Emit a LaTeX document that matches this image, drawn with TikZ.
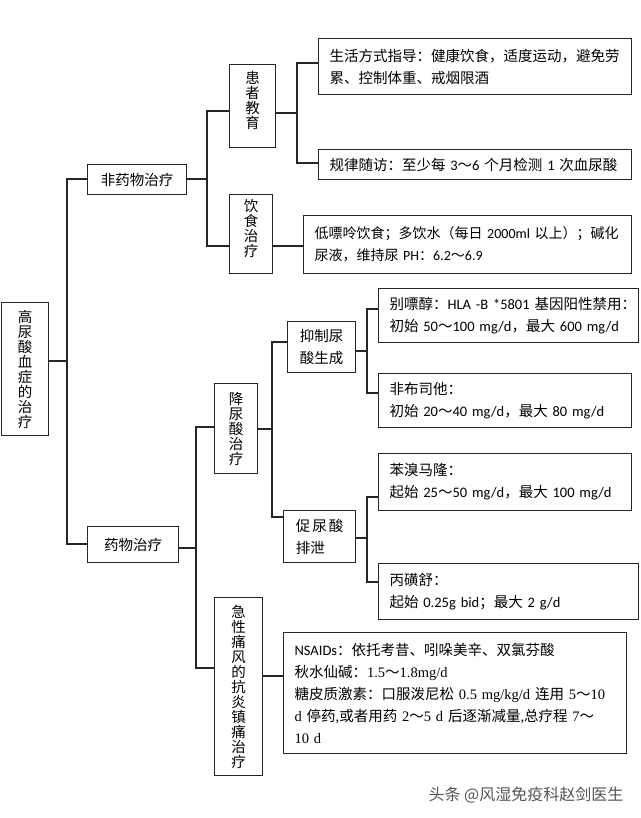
\documentclass[tikz,border=0pt]{standalone}
\usepackage{fontspec}
\setmainfont{Carlito}
\newfontfamily\cjk{Noto Sans CJK SC}
\newfontfamily\serifl{Liberation Serif}
\newcommand\C[1]{{\cjk #1}}
\newcommand\Sr[1]{{\serifl #1}}
\definecolor{wmgray}{RGB}{85,85,85}
\tikzset{
  box/.style={draw=black!85, line width=1.1pt, inner sep=0pt, anchor=north west},
  tbox/.style={box, inner xsep=11pt, align=left, font=\fontsize{14.5}{22}\selectfont},
  vbox/.style={box, align=center, font=\cjk\fontsize{14.5}{15}\selectfont},
  hbox/.style={box, align=center, font=\cjk\fontsize{14.5}{22}\selectfont},
  link/.style={line width=1.1pt, draw=black!85},
}
\begin{document}
\begin{tikzpicture}[x=1pt,y=-1pt]
\useasboundingbox (0,0) rectangle (640,818);
\fill[white] (0,0) rectangle (640,818);

% nodes
\node[vbox, minimum width=47, minimum height=133] (root) at (1,302) {高\\尿\\酸\\血\\症\\的\\治\\疗};
\node[hbox, minimum width=99, minimum height=30] (nd) at (87,164) {非药物治疗};
\node[vbox, minimum width=46, minimum height=83] (hz) at (229,64) {患\\者\\教\\育\\[-3pt]\mbox{}};
\node[vbox, minimum width=43, minimum height=79] (ys) at (229,194) {饮\\食\\治\\疗\\[-3pt]\mbox{}};
\node[tbox, text width=291, minimum height=56] (shfs) at (318,38)
  {\mbox{\C{生活方式指导：健康饮食，适度运动，避免劳}}\\\C{累、控制体重、戒烟限酒}};
\node[tbox, text width=291, minimum height=30] (glsf) at (318,149)
  {\mbox{\C{规律随访：至少每} 3\C{～}6 \C{个月检测} 1 \C{次血尿酸}}};
\node[tbox, text width=306, minimum height=58, font=\fontsize{14}{22}\selectfont] (dpl) at (303,215)
  {\mbox{\C{低嘌呤饮食；多饮水（每日} 2000ml \C{以上）；碱化}}\\\C{尿液，维持尿} PH\C{：}6.2\C{～}6.9};
\node[hbox, minimum width=91, minimum height=36] (yw) at (87,526) {药物治疗};
\node[vbox, minimum width=43, minimum height=90] (jns) at (214,383) {降\\尿\\酸\\治\\疗};
\node[hbox, minimum width=68, minimum height=51] (yz) at (287,321) {抑制尿\\酸生成};
\node[hbox, align=left, minimum width=72, minimum height=52] (cn) at (283,510)
  {促\hspace{2pt}尿\hspace{2pt}酸\\排泄};
\node[tbox, text width=238, minimum height=54] (bpc) at (378,288)
  {\mbox{\C{别嘌醇：}HLA -B *5801 \C{基因阳性禁用：}}\\\mbox{\C{初始} 50\C{～}100 mg/d\C{，最大} 600 mg/d}};
\node[tbox, text width=231, minimum height=54] (fbst) at (378,373)
  {\C{非布司他：}\\\mbox{\C{初始} 20\C{～}40 mg/d\C{，最大} 80 mg/d}};
\node[tbox, text width=231, minimum height=57] (bxml) at (378,453)
  {\C{苯溴马隆：}\\\mbox{\C{起始} 25\C{～}50 mg/d\C{，最大} 100 mg/d}};
\node[tbox, text width=238, minimum height=56] (bhs) at (378,563)
  {\C{丙磺舒：}\\\mbox{\C{起始} 0.25g bid\C{；最大} 2 g/d}};
\node[vbox, minimum width=48, minimum height=178] (jx) at (214,597)
  {急\\性\\痛\\风\\的\\抗\\炎\\镇\\痛\\治\\疗};
\node[tbox, text width=321, minimum height=121] (ns) at (283,632)
  {\mbox{NSAIDs\C{：依托考昔、吲哚美辛、双氯芬酸}}\\
   \mbox{\C{秋水仙碱：}\Sr{1.5}\C{～}\Sr{1.8mg/d}}\\
   \mbox{\C{糖皮质激素：口服泼尼松} \Sr{0.5 mg/kg/d} \C{连用} \Sr{5}\C{～}\Sr{10}}\\
   \mbox{\Sr{d} \C{停药}\Sr{,}\C{或者用药} \Sr{2}\C{～}\Sr{5 d} \C{后逐渐减量}\Sr{,}\C{总疗程} \Sr{7}\C{～}}\\
   \Sr{10 d}};
\node[font=\cjk\fontsize{16}{16}\selectfont, text=wmgray] (wm) at (526,795) {头条 @风湿免疫科赵剑医生};

% junctions
\coordinate (jA) at (67,361);  \coordinate (jA1) at (67,179);  \coordinate (jA2) at (67,544);
\coordinate (jB) at (207,179); \coordinate (jB1) at (207,111); \coordinate (jB2) at (207,246);
\coordinate (jC) at (297,113); \coordinate (jC1) at (297,63);  \coordinate (jC2) at (297,163);
\coordinate (jD) at (290,246);
\coordinate (jE) at (196,548); \coordinate (jE1) at (196,427); \coordinate (jE2) at (196,668);
\coordinate (jF) at (272,429); \coordinate (jF1) at (272,342); \coordinate (jF2) at (272,517);
\coordinate (jG) at (367,351); \coordinate (jG1) at (367,309); \coordinate (jG2) at (367,393);
\coordinate (jH) at (367,538); \coordinate (jH1) at (367,497); \coordinate (jH2) at (367,582);
\coordinate (jI) at (270,676);

% connectors
\draw[link] (root.east |- jA) -- (jA);
\draw[link] (nd.west |- jA1) -- (jA1) -- (jA2) -- (yw.west |- jA2);

\draw[link] (nd.east |- jB) -- (jB);
\draw[link] (hz.west |- jB1) -- (jB1) -- (jB2) -- (ys.west |- jB2);

\draw[link] (hz.east |- jC) -- (jC);
\draw[link] (shfs.west |- jC1) -- (jC1) -- (jC2) -- (glsf.west |- jC2);

\draw[link] (ys.east |- jD) -- (dpl.west |- jD);

\draw[link] (yw.east |- jE) -- (jE);
\draw[link] (jns.west |- jE1) -- (jE1) -- (jE2) -- (jx.west |- jE2);

\draw[link] (jns.east |- jF) -- (jF);
\draw[link] (yz.west |- jF1) -- (jF1) -- (jF2) -- (cn.west |- jF2);

\draw[link] (yz.east |- jG) -- (jG);
\draw[link] (bpc.west |- jG1) -- (jG1) -- (jG2) -- (fbst.west |- jG2);

\draw[link] (cn.east |- jH) -- (jH);
\draw[link] (bxml.west |- jH1) -- (jH1) -- (jH2) -- (bhs.west |- jH2);

\draw[link] (jx.east |- jI) -- (ns.west |- jI);
\end{tikzpicture}
\end{document}
